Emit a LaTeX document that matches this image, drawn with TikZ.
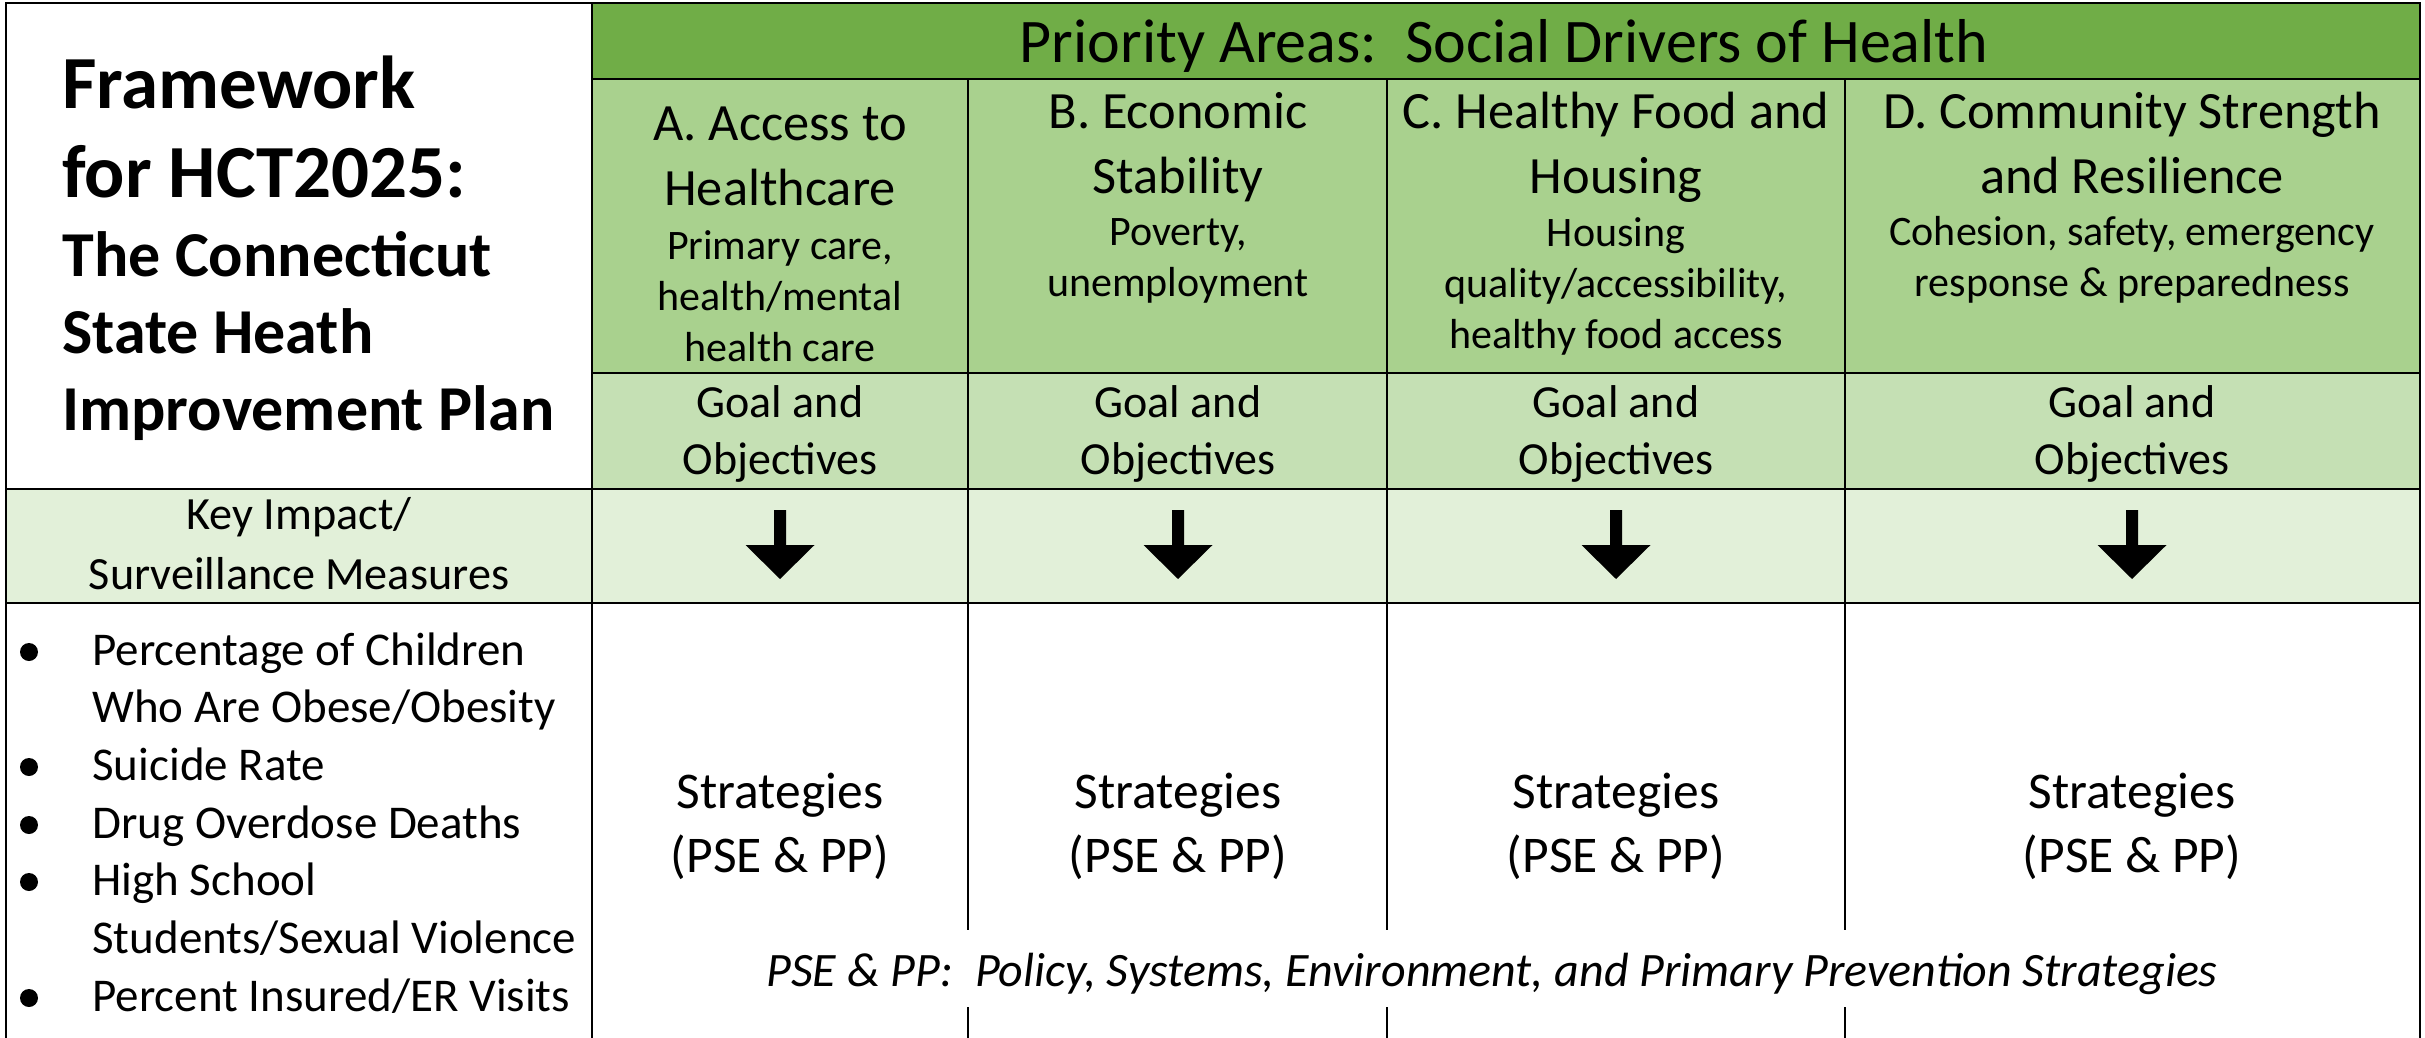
\documentclass[tikz,border=0pt]{standalone}
\usepackage{fontspec}
\setmainfont{Carlito}
\usetikzlibrary{positioning}
\definecolor{hdrgreen}{HTML}{70AD47}
\definecolor{areagreen}{HTML}{A9D18E}
\definecolor{goalgreen}{HTML}{C5E0B4}
\definecolor{rowgreen}{HTML}{E2F0D9}

\begin{document}
\begin{tikzpicture}[x=0.5pt, y=-0.5pt]
\tikzset{
every node/.style={inner sep=0pt}, % text sits right on its coordinate
grid/.style={line width=1.1pt, line cap=rect}, % the table rules
title/.style={anchor=base west, font=\bfseries\fontsize{37.5}{45}\selectfont},
subtitle/.style={anchor=base west, font=\bfseries\fontsize{32}{38.5}\selectfont},
banner/.style={anchor=base, font=\fontsize{31}{37}\selectfont},
% multi-line nodes: base = baseline of the last line
area/.style={anchor=base, align=center, font=\fontsize{26.2}{32.5}\selectfont},
areasub/.style={anchor=base, align=center, font=\fontsize{21}{25.5}\selectfont},
goal/.style={anchor=base, align=center, font=\fontsize{23}{28.25}\selectfont},
keym/.style={anchor=base, align=center, font=\fontsize{23.1}{29.7}\selectfont},
measure/.style={anchor=base west, font=\fontsize{23.5}{28.8}\selectfont},
strat/.style={anchor=base, align=center, font=\fontsize{25.75}{32}\selectfont},
note/.style={anchor=base, font=\itshape\fontsize{24}{28}\selectfont},
}
\useasboundingbox (0,0) rectangle (2425,1038);

% cell shading
\fill[hdrgreen] (592,3) rectangle (2420,79);
\fill[areagreen] (592,79) rectangle (2420,373);
\fill[goalgreen] (592,373) rectangle (2420,489);
\fill[rowgreen] (6,489) rectangle (2420,603);

% rules
\draw[grid] (6,3) -- (2420,3);
\draw[grid] (592,79) -- (2420,79);
\draw[grid] (592,373) -- (2420,373);
\draw[grid] (6,489) -- (2420,489);
\draw[grid] (6,603) -- (2420,603);
\draw[grid] (6,3) -- (6,1038);
\draw[grid] (592,3) -- (592,1038);
\draw[grid] (2420,3) -- (2420,1038);
\foreach \cx in {968,1387,1845} {
  \draw[grid] (\cx,79) -- (\cx,929);
  \draw[grid] (\cx,1008) -- (\cx,1038);
}

% title cell
\node[title] (fw) at (62,108.7) {Framework};
\node[title] (hct) at (62,197.6) {for HCT2025:};
\node[subtitle] (ct) at (62,276.7) {The Connecticut};
\node[subtitle] (sh) at (62,353.8) {State Heath};
\node[subtitle] (ip) at (62,430.8) {Improvement Plan};

% priority areas
\node[banner] (prio) at (1504,63) {Priority Areas:\ \ Social Drivers of Health};
\node[area] (aA) at (780,205.5) {A. Access to\\Healthcare};
\node[areasub] (sA) at (780,361.5) {Primary care,\\health/mental\\health care};
\node[area] (aB) at (1178,193.7) {B. Economic\\Stability};
\node[areasub] (sB) at (1178,296) {Poverty,\\unemployment};
\node[area] (aC) at (1616,193.7) {C. Healthy Food and\\Housing};
\node[areasub] (sC) at (1616,348) {Housing\\quality/accessibility,\\healthy food access};
\node[area] (aD) at (2132,193.7) {D. Community Strength\\and Resilience};
\node[areasub] (sD) at (2132,296) {Cohesion, safety, emergency\\response \& preparedness};

% goals, arrows, strategies per column
\foreach \cx/\nm in {780/A,1178/B,1616/C,2132/D} {
  \node[goal] (goal\nm) at (\cx,474) {Goal and\\Objectives};
  \fill (\cx-6,510) -- (\cx+6,510) -- (\cx+6,545) -- (\cx+34.5,545)
    -- (\cx,579) -- (\cx-34.5,545) -- (\cx-6,545) -- cycle;
  \node[strat] (strat\nm) at (\cx,872) {Strategies\\(PSE \& PP)};
}

% measures
\node[keym] (key) at (299,589) {Key Impact/\\Surveillance Measures};
\foreach \by in {652,767,825,882,998}
  \fill (29,\by) circle[radius=9];
\node[measure] (m1) at (92,665) {Percentage of Children};
\node[measure] (m2) at (92,722) {Who Are Obese/Obesity};
\node[measure] (m3) at (92,780) {Suicide Rate};
\node[measure] (m4) at (92,838) {Drug Overdose Deaths};
\node[measure] (m5) at (92,895) {High School};
\node[measure] (m6) at (92,953) {Students/Sexual Violence};
\node[measure] (m7) at (92,1011) {Percent Insured/ER Visits};

\node[note] (pse) at (1492,986) {PSE \& PP:\ \ Policy, Systems, Environment, and Primary Prevention Strategies};
\end{tikzpicture}
\end{document}
